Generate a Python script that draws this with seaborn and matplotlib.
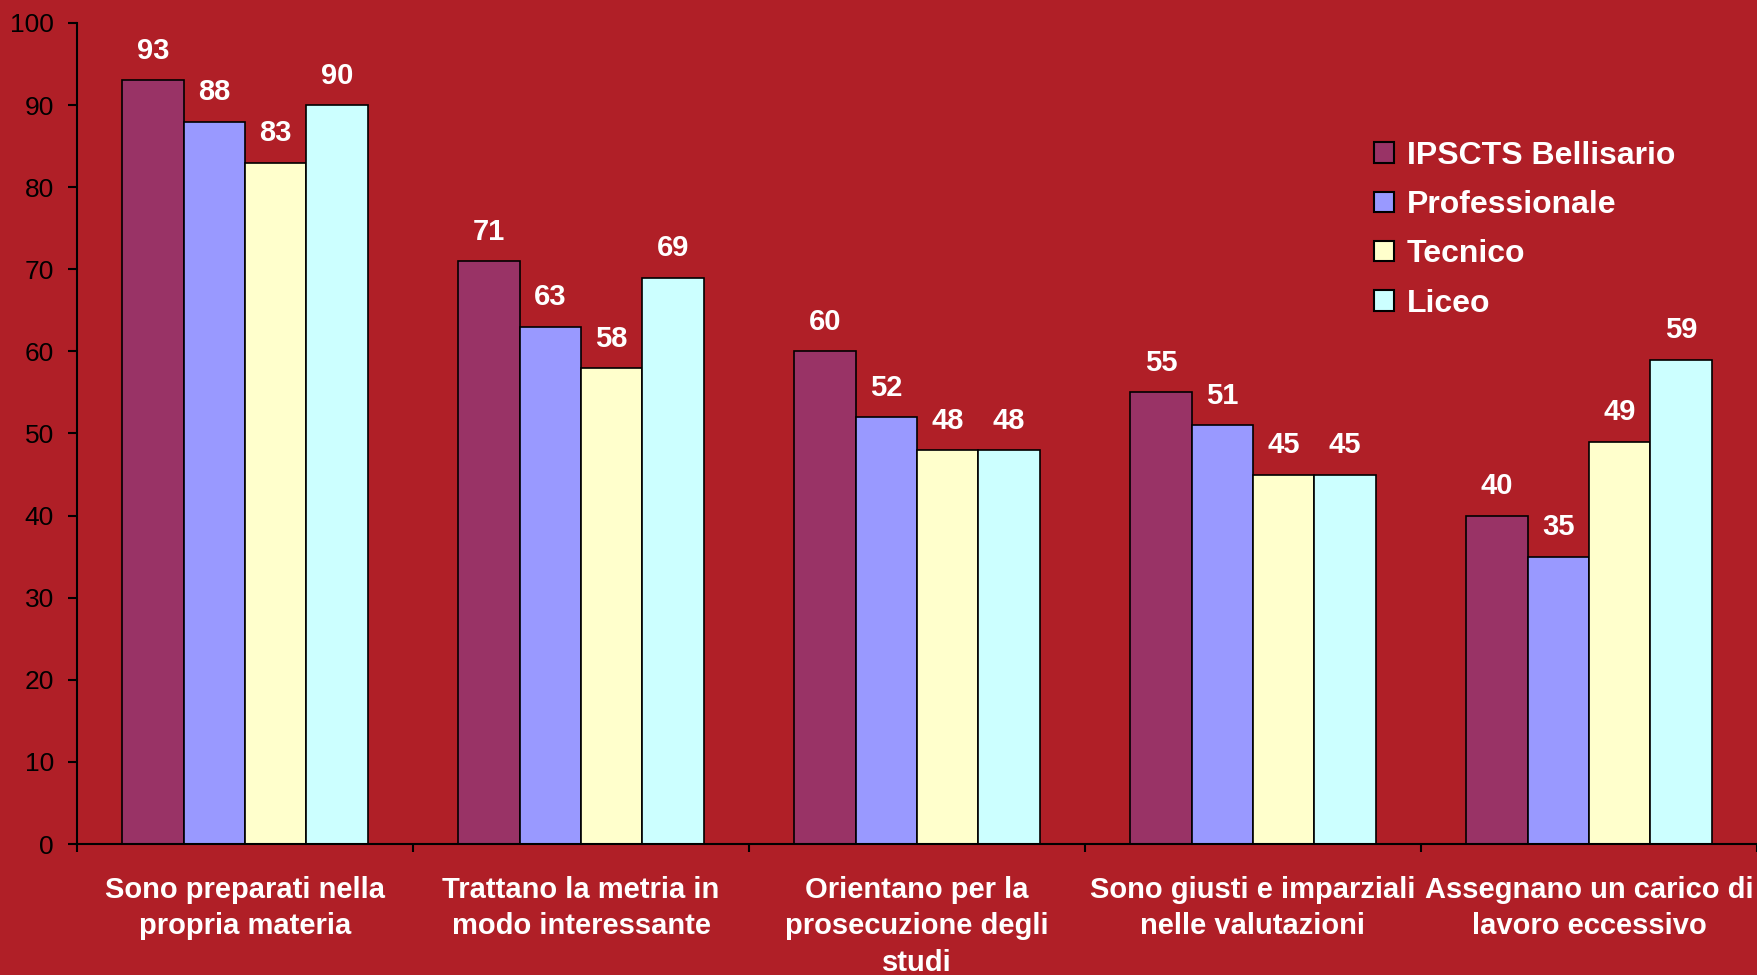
import numpy as np
import pandas as pd
import matplotlib
matplotlib.use('Agg')
import matplotlib.pyplot as plt
import seaborn as sns

categorie = [
    'Sono preparati nella\npropria materia',
    'Trattano la metria in\nmodo interessante',
    'Orientano per la\nprosecuzione degli\nstudi',
    'Sono giusti e imparziali\nnelle valutazioni',
    'Assegnano un carico di\nlavoro eccessivo',
]
serie = ['IPSCTS Bellisario', 'Professionale', 'Tecnico', 'Liceo']
bellisario = [93, 71, 60, 55, 40]
professionale = [88, 63, 52, 51, 35]
tecnico = [83, 58, 48, 45, 49]
liceo = [90, 69, 48, 45, 59]
colori = ['#993366', '#9999FF', '#FFFFCC', '#CCFFFF']
y_ticks = list(range(0, 101, 10))

BG = '#B01F27'

sns.set_style('ticks')
plt.rcParams['font.family'] = ['Liberation Sans', 'DejaVu Sans']

# long form table for seaborn
valori = [bellisario, professionale, tecnico, liceo]
df = pd.DataFrame({
    'categoria': [c for _ in serie for c in categorie],
    'serie': [s for s in serie for _ in categorie],
    'valore': [v for vals in valori for v in vals],
})

fig = plt.figure(figsize=(17.57, 9.75), dpi=100, facecolor=BG)
ax = fig.add_axes([77 / 1757, 1 - 844 / 975, 1 - 77 / 1757, (844 - 23) / 975])
ax.set_facecolor(BG)

sns.barplot(data=df, x='categoria', y='valore', hue='serie', order=categorie,
            hue_order=serie, palette=colori, width=0.73, edgecolor='black',
            linewidth=1.2, saturation=1, errorbar=None, ax=ax)

for cont in ax.containers:
    ax.bar_label(cont, fmt='%d', padding=11, color='white', fontsize=21,
                 fontweight='bold')

ax.set_ylim(0, 100)
ax.set_xlim(-0.5, len(categorie) - 0.5)
ax.set_yticks(y_ticks)
ax.tick_params(axis='y', labelsize=19, length=6.5, width=1.5, color='black',
               pad=10, labelcolor='black')

# ticks at group boundaries, labels at centres
ax.set_xticks(np.arange(-0.5, len(categorie), 1.0))
ax.set_xticklabels([])
ax.set_xticks(np.arange(len(categorie)), minor=True)
ax.set_xticklabels(categorie, minor=True, fontsize=21, fontweight='bold',
                   color='white', linespacing=1.38, va='top')
ax.tick_params(axis='x', which='major', length=6, width=1.5, color='black')
ax.tick_params(axis='x', which='minor', length=0, pad=23)
ax.set_xlabel('')
ax.set_ylabel('')

for s in ['top', 'right']:
    ax.spines[s].set_visible(False)
for s in ['left', 'bottom']:
    ax.spines[s].set_color('black')
    ax.spines[s].set_linewidth(1.5)

leg = ax.legend(loc='upper left', bbox_to_anchor=(1374 / 1757, 1 - 141 / 975),
                bbox_transform=fig.transFigure, frameon=False, fontsize=23,
                handlelength=0.62, handleheight=0.62, handletextpad=0.4,
                labelspacing=0.6, borderpad=0, borderaxespad=0)
for t in leg.get_texts():
    t.set_color('white')
    t.set_fontweight('bold')
for h in leg.legend_handles:
    h.set_edgecolor('black')
    h.set_linewidth(1.5)

fig.savefig('out.png', dpi=100, facecolor=BG)
